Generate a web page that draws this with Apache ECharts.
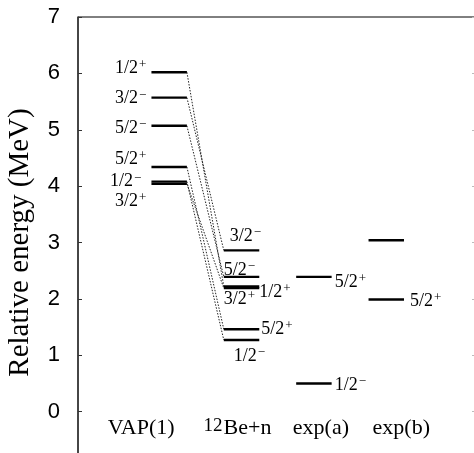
<!DOCTYPE html>
<html>
<head>
<meta charset="utf-8">
<script src="https://cdn.jsdelivr.net/npm/echarts@6/dist/echarts.min.js"></script>
<style>
html, body { margin: 0; padding: 0; background: #fff; }
#main { width: 474px; height: 453px; }
</style>
</head>
<body>
<div id="main"></div>
<script>
// columns of the level scheme
var columns = ['VAP(1)', '12Be+n', 'exp(a)', 'exp(b)'];

// VAP(1) levels (MeV) and spins, same order as the 12Be+n levels they connect to
var vapLevels = [6.02, 5.57, 5.07, 4.34, 4.08, 4.04];
var vapSpins = ['1/2+', '3/2-', '5/2-', '5/2+', '1/2-', '3/2+'];

// 12Be+n levels
var beLevels = [2.22, 2.86, 2.39, 1.46, 1.27, 2.19];
var beSpins = ['1/2+', '3/2-', '5/2-', '5/2+', '1/2-', '3/2+'];

// experiments
var expALevels = [2.39, 0.50];
var expASpins = ['5/2+', '1/2-'];
var expBLevels = [3.04, 1.99];
var expBSpins = ['', '5/2+'];

var yTicks = [0, 1, 2, 3, 4, 5, 6, 7];

// label placement per level: [dx, dy, align] relative to the line end
var vapPlace = [[-5, -4, 'right'], [-5, 1, 'right'], [-5, 2, 'right'], [-5, -8, 'right'], [-10, 0, 'right'], [-5, 17, 'right']];
var bePlace = [[0, 6, 'left'], [6, -14, 'left'], [0, -7, 'left'], [2, 0, 'left'], [10, 16, 'left'], [0, 11, 'left']];
var expAPlace = [[3, 5, 'left'], [3, 2, 'left']];
var expBPlace = [[0, 0, 'left'], [6, 2, 'left']];
// which lines take the label from the right end (true) or left end (false)
var beFromRight = [true, false, false, true, false, false];
// horizontal shift (px) of the column names relative to the level centres
var colShift = [-28, -4, 7, 15];

var HW = 0.245;

var levelData = [];
function addLevels(col, levels, spins, place, fromRight) {
	for (var i = 0; i < levels.length; i++) {
		levelData.push({
			value: [col, levels[i]],
			spin: spins[i],
			place: place[i],
			fromRight: fromRight ? fromRight[i] : null
		});
	}
}
addLevels(1, vapLevels, vapSpins, vapPlace, null);
addLevels(2, beLevels, beSpins, bePlace, beFromRight);
addLevels(3, expALevels, expASpins, expAPlace, [true, true]);
addLevels(4, expBLevels, expBSpins, expBPlace, [true, true]);

var connData = [];
for (var i = 0; i < vapLevels.length; i++) {
	connData.push({ coords: [[1 + HW, vapLevels[i]], [2 - HW, beLevels[i]]] });
}

function spinText(s) {
	if (!s) return '';
	var sign = s.charAt(s.length - 1) === '-' ? '\u2212' : '+';
	return '{n|' + s.slice(0, -1) + '}{s|' + sign + '}';
}

var spinRich = {
	n: { fontFamily: 'Liberation Serif', fontSize: 18, color: '#000', lineHeight: 20 },
	s: { fontFamily: 'Liberation Serif', fontSize: 13, color: '#000', verticalAlign: 'top', lineHeight: 20, padding: [0, 0, 8, 1] }
};

var colRich = {
	m: { fontFamily: 'Liberation Serif', fontSize: 22, color: '#000', lineHeight: 24 },
	sup: { fontFamily: 'Liberation Serif', fontSize: 19, color: '#000', verticalAlign: 'top', lineHeight: 24, padding: [0, 1, 9, 0] }
};

function renderLevel(params, api) {
	var item = levelData[params.dataIndex];
	var x = api.value(0), e = api.value(1);
	var p1 = api.coord([x - HW, e]);
	var p2 = api.coord([x + HW, e]);
	var children = [{
		type: 'line',
		shape: { x1: p1[0], y1: p1[1], x2: p2[0], y2: p2[1] },
		style: { stroke: '#000', lineWidth: 2.4 }
	}];
	if (item.spin) {
		var pl = item.place;
		var base;
		if (item.fromRight === null) base = p1;        // VAP: label left of line
		else base = item.fromRight ? p2 : p1;
		children.push({
			type: 'text',
			x: base[0] + pl[0],
			y: base[1] + pl[1],
			style: {
				text: spinText(item.spin),
				rich: spinRich,
				align: pl[2],
				verticalAlign: 'middle'
			}
		});
	}
	return { type: 'group', children: children };
}

function renderColumnName(params, api) {
	var c = params.dataIndex;
	var p = api.coord([api.value(0), 0]);
	var name = columns[c];
	var txt = name === '12Be+n' ? '{sup|12}{m|Be+n}' : '{m|' + name + '}';
	return {
		type: 'text',
		x: p[0] + colShift[c],
		y: p[1] + 17,
		style: { text: txt, rich: colRich, align: 'center', verticalAlign: 'middle' }
	};
}

var myChart = echarts.init(document.getElementById('main'));

var option = {
	backgroundColor: '#fff',
	animation: false,
	grid: {
		left: 78,
		top: 17,
		right: -2,
		bottom: -15,
		show: true,
		borderColor: '#000',
		borderWidth: 1,
		outerBoundsMode: 'none'
	},
	xAxis: [{
		type: 'value',
		min: -0.26,
		max: 5.24,
		position: 'bottom',
		axisLine: { show: false, onZero: false },
		axisTick: { show: false },
		splitLine: { show: false },
		axisLabel: { show: false }
	}],
	yAxis: [{
		type: 'value',
		min: -1,
		max: 7,
		interval: 1,
		position: 'left',
		name: 'Relative energy (MeV)',
		nameLocation: 'middle',
		nameGap: 43,
		nameMoveOverlap: false,
		nameTextStyle: { fontFamily: 'Liberation Serif', fontSize: 29, color: '#000' },
		axisLine: { show: true, onZero: false, lineStyle: { color: '#333', width: 1.5 } },
		axisTick: { show: true, inside: true, length: 4, lineStyle: { color: '#333' } },
		splitLine: { show: false },
		axisLabel: {
			margin: 18,
			fontFamily: 'Liberation Sans',
			fontSize: 22,
			color: '#000',
			formatter: function (v) { return yTicks.indexOf(v) >= 0 ? String(v) : ''; }
		}
	}, {
		type: 'value',
		min: -1,
		max: 7,
		interval: 1,
		position: 'right',
		axisLine: { show: false, onZero: false },
		axisTick: { show: true, inside: true, length: 4, lineStyle: { color: '#bbb' } },
		axisLabel: { show: false },
		splitLine: { show: false }
	}],
	series: [{
		type: 'lines',
		coordinateSystem: 'cartesian2d',
		polyline: false,
		silent: true,
		lineStyle: { color: '#222', width: 1, type: [1.5, 1.5], opacity: 1 },
		data: connData,
		z: 2
	}, {
		type: 'custom',
		renderItem: renderLevel,
		data: levelData.map(function (d) { return d.value; }),
		z: 3
	}, {
		type: 'custom',
		renderItem: renderColumnName,
		data: columns.map(function (n, i) { return [i + 1, 0]; }),
		clip: false,
		silent: true,
		z: 3
	}]
};
myChart.setOption(option);
</script>
</body>
</html>
